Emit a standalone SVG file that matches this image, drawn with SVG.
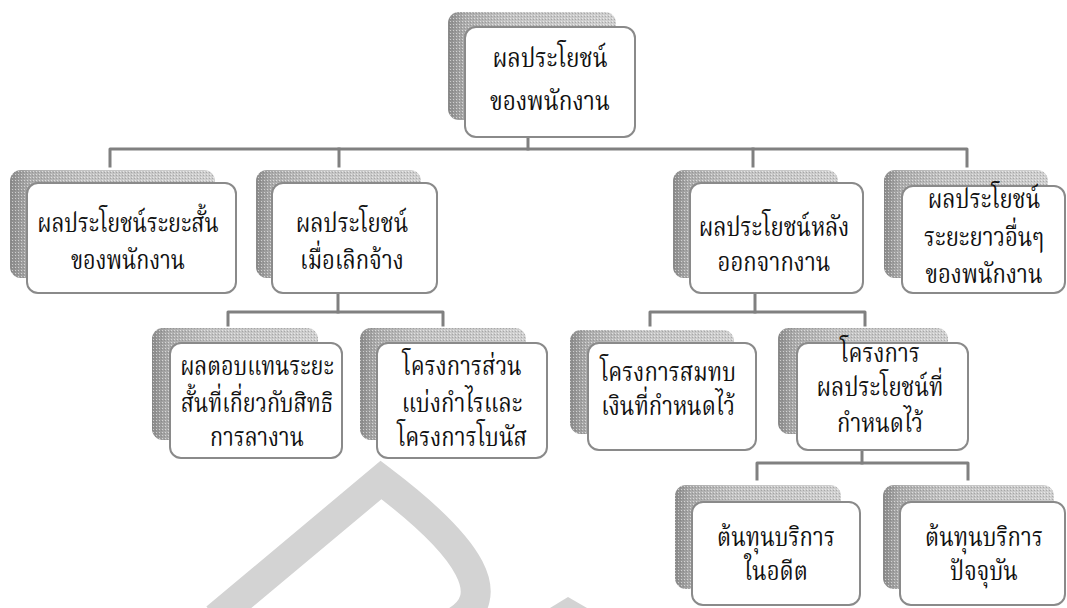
<svg xmlns="http://www.w3.org/2000/svg" width="1067" height="608" viewBox="0 0 1067 608">
<defs>
<linearGradient id="sh" x1="0" y1="0" x2="1" y2="0">
<stop offset="0" stop-color="#8a8a8a"/>
<stop offset="0.1" stop-color="#acacac"/>
<stop offset="0.35" stop-color="#c2c2c2"/>
<stop offset="1" stop-color="#cfcfcf"/>
</linearGradient>
<pattern id="dots" width="3" height="3" patternUnits="userSpaceOnUse">
<rect width="1" height="1" fill="#ffffff" opacity="0.55"/>
<rect x="2" y="1" width="1" height="1" fill="#707070" opacity="0.4"/>
</pattern>
</defs>
<style>
.shadow{fill:url(#sh);}
.tex{fill:url(#dots);}
.box{fill:#ffffff;stroke:#8a8a8a;stroke-width:2;}
.conn{fill:none;stroke:#808080;stroke-width:3;stroke-linejoin:round;stroke-linecap:square;}
.wm{fill:none;stroke:#d3d3d3;stroke-width:30;stroke-linejoin:miter;}
text{font-family:"Norasi","Noto Serif Thai","Noto Sans Thai Looped","Noto Sans Thai","Noto Sans",sans-serif;font-size:27px;fill:#111;text-anchor:middle;}
</style>
<rect width="1067" height="608" fill="#ffffff"/>
<g id="watermark">
<path class="wm" d="M216,618 L381,480 Q520,585 455,622"/>
<polygon points="550,608 568,597 587,608" fill="#d3d3d3"/>
</g>
<g id="connectors">
<path class="conn" d="M528,137 V149"/>
<path class="conn" d="M110,166 V149 H967 V166"/>
<path class="conn" d="M339,149 V166"/>
<path class="conn" d="M753,149 V166"/>
<path class="conn" d="M338,293 V312"/>
<path class="conn" d="M228,325 V312 H443 V325"/>
<path class="conn" d="M755,293 V312"/>
<path class="conn" d="M650,325 V312 H865 V325"/>
<path class="conn" d="M862,450 V463"/>
<path class="conn" d="M757,479 V463 H968 V479"/>
</g>
<g id="n-top">
<rect class="shadow" x="448" y="12" width="168" height="108" rx="11"/>
<rect class="tex" x="448" y="12" width="168" height="108" rx="11"/>
<rect class="box" x="465" y="27" width="170" height="110" rx="11"/>
<g transform="translate(550 0) scale(0.84 1)">
<text x="0" y="67">ผลประโยชน์</text>
<text x="0" y="110">ของพนักงาน</text>
</g>
</g>
<g id="n-short">
<rect class="shadow" x="10" y="170" width="205" height="108" rx="11"/>
<rect class="tex" x="10" y="170" width="205" height="108" rx="11"/>
<rect class="box" x="27" y="183" width="209" height="110" rx="11"/>
<g transform="translate(128 0) scale(0.8 1)">
<text x="0" y="232">ผลประโยชน์ระยะสั้น</text>
<text x="0" y="269">ของพนักงาน</text>
</g>
</g>
<g id="n-term">
<rect class="shadow" x="256" y="170" width="165" height="108" rx="11"/>
<rect class="tex" x="256" y="170" width="165" height="108" rx="11"/>
<rect class="box" x="272" y="183" width="165" height="110" rx="11"/>
<g transform="translate(352 0) scale(0.82 1)">
<text x="0" y="232">ผลประโยชน์</text>
<text x="0" y="269">เมื่อเลิกจ้าง</text>
</g>
</g>
<g id="n-post">
<rect class="shadow" x="673" y="170" width="165" height="108" rx="11"/>
<rect class="tex" x="673" y="170" width="165" height="108" rx="11"/>
<rect class="box" x="690" y="183" width="173" height="110" rx="11"/>
<g transform="translate(774 0) scale(0.82 1)">
<text x="0" y="236">ผลประโยชน์หลัง</text>
<text x="0" y="271">ออกจากงาน</text>
</g>
</g>
<g id="n-other">
<rect class="shadow" x="884" y="170" width="164" height="108" rx="11"/>
<rect class="tex" x="884" y="170" width="164" height="108" rx="11"/>
<rect class="box" x="902" y="186" width="163" height="107" rx="11"/>
<g transform="translate(984 0) scale(0.82 1)">
<text x="0" y="208">ผลประโยชน์</text>
<text x="0" y="246">ระยะยาวอื่นๆ</text>
<text x="0" y="283">ของพนักงาน</text>
</g>
</g>
<g id="n-leave">
<rect class="shadow" x="152" y="328" width="166" height="112" rx="11"/>
<rect class="tex" x="152" y="328" width="166" height="112" rx="11"/>
<rect class="box" x="170" y="343" width="172" height="115" rx="11"/>
<g transform="translate(257 0) scale(0.8 1)">
<text x="0" y="375">ผลตอบแทนระยะ</text>
<text x="0" y="412">สั้นที่เกี่ยวกับสิทธิ</text>
<text x="0" y="446">การลางาน</text>
</g>
</g>
<g id="n-bonus">
<rect class="shadow" x="360" y="328" width="166" height="112" rx="11"/>
<rect class="tex" x="360" y="328" width="166" height="112" rx="11"/>
<rect class="box" x="377" y="343" width="170" height="115" rx="11"/>
<g transform="translate(462 0) scale(0.82 1)">
<text x="0" y="375">โครงการส่วน</text>
<text x="0" y="412">แบ่งกำไรและ</text>
<text x="0" y="446">โครงการโบนัส</text>
</g>
</g>
<g id="n-dc">
<rect class="shadow" x="570" y="330" width="164" height="104" rx="11"/>
<rect class="tex" x="570" y="330" width="164" height="104" rx="11"/>
<rect class="box" x="588" y="343" width="168" height="107" rx="11"/>
<g transform="translate(668 0) scale(0.82 1)">
<text x="0" y="381">โครงการสมทบ</text>
<text x="0" y="415">เงินที่กำหนดไว้</text>
</g>
</g>
<g id="n-db">
<rect class="shadow" x="778" y="328" width="170" height="106" rx="11"/>
<rect class="tex" x="778" y="328" width="170" height="106" rx="11"/>
<rect class="box" x="797" y="343" width="171" height="107" rx="11"/>
<g transform="translate(880 0) scale(0.82 1)">
<text x="0" y="362">โครงการ</text>
<text x="0" y="396">ผลประโยชน์ที่</text>
<text x="0" y="432">กำหนดไว้</text>
</g>
</g>
<g id="n-past">
<rect class="shadow" x="675" y="485" width="166" height="104" rx="11"/>
<rect class="tex" x="675" y="485" width="166" height="104" rx="11"/>
<rect class="box" x="692" y="502" width="168" height="103" rx="11"/>
<g transform="translate(776 0) scale(0.82 1)">
<text x="0" y="546">ต้นทุนบริการ</text>
<text x="0" y="580">ในอดีต</text>
</g>
</g>
<g id="n-current">
<rect class="shadow" x="883" y="485" width="171" height="104" rx="11"/>
<rect class="tex" x="883" y="485" width="171" height="104" rx="11"/>
<rect class="box" x="900" y="502" width="165" height="103" rx="11"/>
<g transform="translate(984 0) scale(0.82 1)">
<text x="0" y="546">ต้นทุนบริการ</text>
<text x="0" y="580">ปัจจุบัน</text>
</g>
</g>
</svg>
